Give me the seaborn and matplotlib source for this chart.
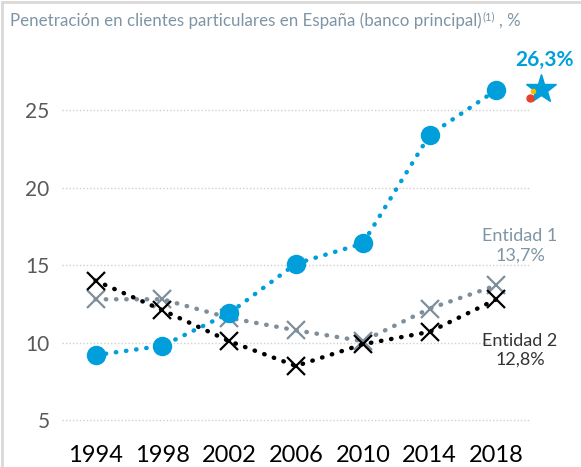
import matplotlib
matplotlib.use("Agg")
import matplotlib.pyplot as plt
import seaborn as sns
from matplotlib.lines import Line2D

years = [1994, 1998, 2002, 2006, 2010, 2014, 2018]
caixa = [9.2, 9.8, 11.9, 15.1, 16.4, 23.4, 26.3]
entidad1 = [12.8, 12.8, 11.6, 10.8, 10.1, 12.2, 13.7]
entidad2 = [14.0, 12.1, 10.1, 8.5, 9.9, 10.7, 12.8]
yticks = [5, 10, 15, 20, 25]

blue = "#009fdb"
gray = "#7f8e9b"
title_col = "#7f95a5"

sns.set_theme(style="white")
plt.rcParams['font.family'] = ['Lato', 'DejaVu Sans']

fig = plt.figure(figsize=(5.81, 4.67), dpi=100)
ax = fig.add_axes([0.107, 0.0835, 0.805, 0.797])

# dotted series lines (gray under black under blue)
sns.lineplot(x=years, y=entidad1, ax=ax, color=gray, linestyle=(0, (0.1, 2.2)),
             linewidth=3.2, dash_capstyle='round', marker='x', markersize=13,
             markeredgewidth=1.6, markeredgecolor=gray, zorder=3)
sns.lineplot(x=years, y=entidad2, ax=ax, color='black', linestyle=(0, (0.1, 2.2)),
             linewidth=3.2, dash_capstyle='round', marker='x', markersize=13,
             markeredgewidth=1.6, markeredgecolor='black', zorder=4)
sns.lineplot(x=years, y=caixa, ax=ax, color=blue, linestyle=(0, (0.1, 2.2)),
             linewidth=3.2, dash_capstyle='round', marker='o', markersize=14,
             markeredgewidth=0, zorder=5)

ax.set_xlim(1992, 2020)
ax.set_ylim(4.5, 28.5)
ax.set_xticks(years)
ax.set_xticklabels([str(y) for y in years], fontsize=17, color='black')
ax.set_yticks(yticks)
ax.set_yticklabels([str(t) for t in yticks], fontsize=15, color='#595959')
ax.tick_params(axis='both', length=0)
ax.tick_params(axis='x', pad=12)
ax.tick_params(axis='y', pad=9)
for s in ax.spines.values():
    s.set_visible(False)
ax.grid(axis='y', color='#d0d0d0', linestyle=(0, (1, 1.5)), linewidth=1)
ax.set_xlabel('')
ax.set_ylabel('')

# title, pieces placed one after another
fig.canvas.draw()
r = fig.canvas.get_renderer()
t1 = fig.text(0.017, 0.955, "Penetración en clientes particulares en España (banco principal)",
              fontsize=12.2, color=title_col, va='center', ha='left')
x1 = fig.transFigure.inverted().transform(t1.get_window_extent(r))[1][0]
t2 = fig.text(x1 + 0.002, 0.965, "(1)", fontsize=8, color=title_col, va='center', ha='left')
x2 = fig.transFigure.inverted().transform(t2.get_window_extent(r))[1][0]
fig.text(x2 + 0.006, 0.955, ", %", fontsize=12.2, color=title_col, va='center', ha='left')

# annotations
fig.text(0.938, 0.872, "26,3%", fontsize=15, fontweight='bold', color=blue,
         ha='center', va='center')
fig.text(0.895, 0.473, "Entidad 1\n13,7%", fontsize=13, color=title_col,
         ha='center', va='center', linespacing=1.25)
fig.text(0.895, 0.25, "Entidad 2\n12,8%", fontsize=13, color='#333333',
         ha='center', va='center', linespacing=1.25)

# logo approximation
fig.add_artist(Line2D([0.932], [0.81], marker='*', markersize=22, color=blue,
                      transform=fig.transFigure))
fig.add_artist(Line2D([0.913], [0.79], marker='o', markersize=5, color='#e8412c',
                      transform=fig.transFigure))
fig.add_artist(Line2D([0.918], [0.806], marker='o', markersize=3, color='#f9b900',
                      transform=fig.transFigure))

# frame lines at left and top
fig.add_artist(Line2D([0.004, 0.004], [0, 0.995], color='#d9d9d9', linewidth=2,
                      transform=fig.transFigure))
fig.add_artist(Line2D([0.004, 1], [0.995, 0.995], color='#d9d9d9', linewidth=2,
                      transform=fig.transFigure))

fig.savefig("out.png", dpi=100)
